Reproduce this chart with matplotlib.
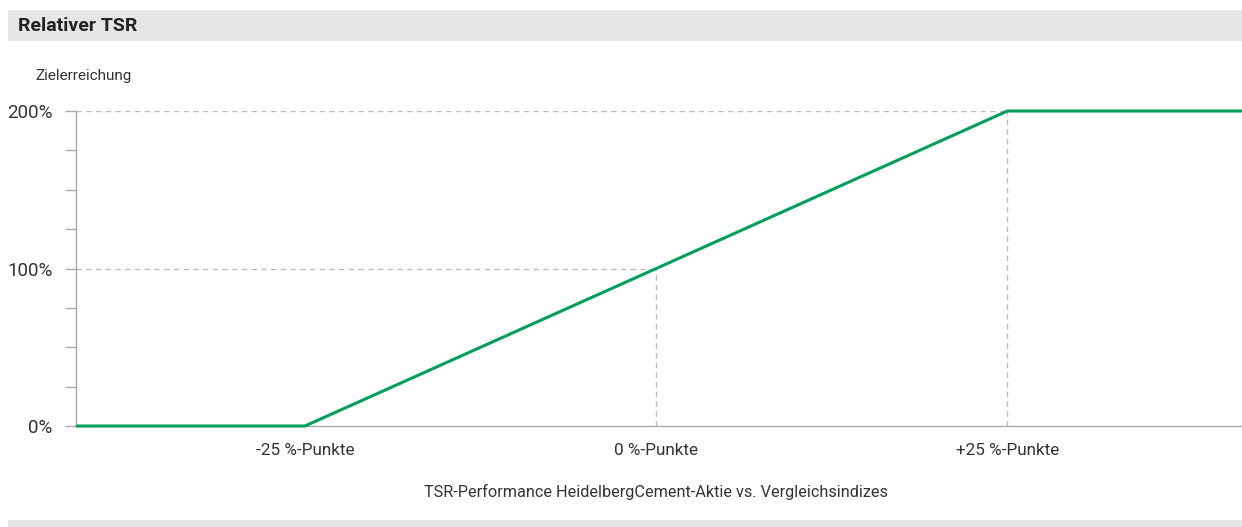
import matplotlib
matplotlib.use("Agg")
import matplotlib.pyplot as plt
from matplotlib.patches import Rectangle
from matplotlib.ticker import MultipleLocator, FixedLocator

plt.rcParams['font.family'] = ['Roboto', 'DejaVu Sans']

# data
perf_x = [-41.3, -25, 0, 25, 41.7]
achievement = [0, 0, 100, 200, 200]
xtick_vals = [-25, 0, 25]
xtick_labels = ["-25 %-Punkte", "0 %-Punkte", "+25 %-Punkte"]
ytick_vals = [0, 100, 200]
ytick_labels = ["0%", "100%", "200%"]

W, H = 1242, 527
fig = plt.figure(figsize=(W/100, H/100), dpi=100)

text_c = "#333333"
grid_c = "#bdbdbd"
green = "#00a05a"

# header band
fig.patches.append(Rectangle((8/W, 1-41/H), (W-8)/W, 31/H, transform=fig.transFigure,
                             facecolor="#e6e6e7", edgecolor="none", zorder=0))
fig.text(18/W, 1-26/H, "Relativer TSR", fontsize=14, fontweight="bold", color="#222222",
         va="center", ha="left")
# bottom band
fig.patches.append(Rectangle((8/W, 0), (W-8)/W, 7/H, transform=fig.transFigure,
                             facecolor="#e6e6e7", edgecolor="none", zorder=0))

ax = fig.add_axes([76/W, 1-426/H, (W-76)/W, 315/H])
ax.set_xlim(perf_x[0], perf_x[-1])
ax.set_ylim(0, 200)

# guide lines
dash = (0, (4, 3))
ax.plot([perf_x[0], 25], [200, 200], color=grid_c, lw=1, linestyle=dash, zorder=1)
ax.plot([perf_x[0], 0], [100, 100], color=grid_c, lw=1, linestyle=dash, zorder=1)
ax.plot([0, 0], [0, 100], color=grid_c, lw=1, linestyle=dash, zorder=1)
ax.plot([25, 25], [0, 200], color=grid_c, lw=1, linestyle=dash, zorder=1)

ax.plot(perf_x, achievement, color=green, lw=2.2, clip_on=False, zorder=3,
        solid_capstyle="butt")

for s in ["top", "right"]:
    ax.spines[s].set_visible(False)
for s in ["left", "bottom"]:
    ax.spines[s].set_color("#aaaaaa")
    ax.spines[s].set_linewidth(1)

ax.yaxis.set_major_locator(FixedLocator(ytick_vals))
ax.set_yticklabels(ytick_labels)
ax.yaxis.set_minor_locator(MultipleLocator(25))
ax.tick_params(axis="y", which="both", length=8, width=1, color="#aaaaaa",
               labelsize=13.5, labelcolor=text_c, pad=9)
ax.set_xticks(xtick_vals)
ax.set_xticklabels(xtick_labels)
ax.tick_params(axis="x", length=0, labelsize=12.3, labelcolor=text_c, pad=12)

ax.set_xlabel("TSR-Performance HeidelbergCement-Aktie vs. Vergleichsindizes",
              fontsize=11.7, color=text_c)
ax.xaxis.set_label_coords((656-76)/(W-76), -(484-426)/315)

fig.text(35/W, 1-76/H, "Zielerreichung", fontsize=11, color=text_c, va="center", ha="left")

fig.savefig("out.png", dpi=100)
